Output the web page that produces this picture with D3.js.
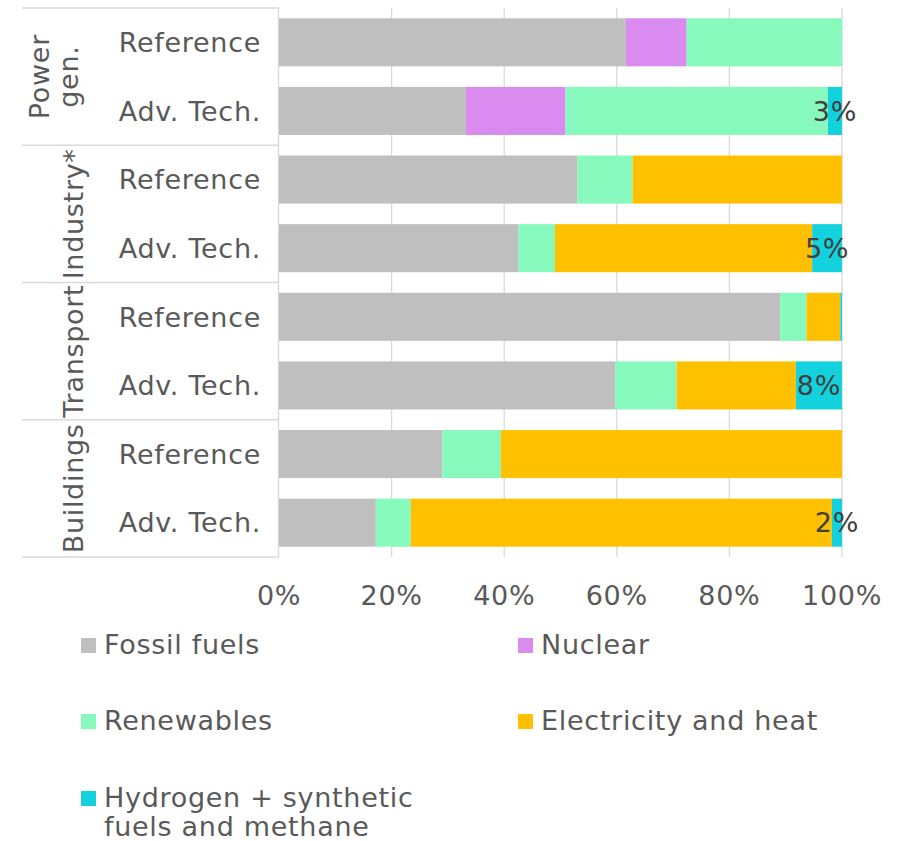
<!DOCTYPE html>
<html>
<head>
<meta charset="utf-8">
<script src="https://cdn.jsdelivr.net/npm/d3@7"></script>
<style>
  body { margin: 0; background: #fff; }
  text { font-family: Verdana, "DejaVu Sans", sans-serif; letter-spacing: 0.7px; }
</style>
</head>
<body>
<div id="chart"></div>
<script>
// sectors and scenarios (each sector has two bars)
const sectors = ["Power gen.", "Industry*", "Transport", "Buildings"];
const scenarios = ["Reference", "Adv. Tech."];

// shares in % per bar, top to bottom
const fossil      = [61.6, 33.2, 53.0, 42.5, 89.0, 59.7, 29.0, 17.2];
const nuclear     = [10.8, 17.7, 0, 0, 0, 0, 0, 0];
const renewables  = [27.6, 46.6, 9.8, 6.5, 4.7, 10.9, 10.4, 6.2];
const electricity = [0, 0, 37.2, 45.7, 6.0, 21.2, 60.6, 74.8];
const hydrogen    = [0, 2.5, 0, 5.3, 0.3, 8.2, 0, 1.8];
const hydrogenLabels = ["", "3%", "", "5%", "", "8%", "", "2%"];

const seriesNames = ["Fossil fuels", "Nuclear", "Renewables", "Electricity and heat", "Hydrogen + synthetic fuels and methane"];
const seriesColors = ["#bfbfbf", "#da8bef", "#87f9bc", "#ffc000", "#13d1dd"];
const xTicks = [0, 20, 40, 60, 80, 100];

const width = 901, height = 841;
const plotLeft = 279, plotRight = 842, plotTop = 8, plotBottom = 557;
const fontSize = 27;
const textColor = "#595959";
const lineColor = "#d9d9d9";

// build rows for the stack
const rows = [];
sectors.forEach((s, i) => {
  scenarios.forEach((sc, j) => {
    const k = i * 2 + j;
    rows.push({
      id: k, sector: s, scenario: sc,
      "Fossil fuels": fossil[k],
      "Nuclear": nuclear[k],
      "Renewables": renewables[k],
      "Electricity and heat": electricity[k],
      "Hydrogen + synthetic fuels and methane": hydrogen[k],
      label: hydrogenLabels[k]
    });
  });
});

const svg = d3.select("#chart").append("svg")
  .attr("width", width)
  .attr("height", height);

const x = d3.scaleLinear().domain([0, 100]).range([plotLeft, plotRight]);
const y = d3.scaleBand()
  .domain(rows.map(d => d.id))
  .range([plotTop, plotBottom])
  .paddingInner(0.3)
  .paddingOuter(0.15);
const color = d3.scaleOrdinal().domain(seriesNames).range(seriesColors);

// gridlines
svg.append("g")
  .selectAll("line")
  .data(xTicks.slice(1))
  .join("line")
  .attr("x1", d => x(d)).attr("x2", d => x(d))
  .attr("y1", plotTop).attr("y2", plotBottom)
  .attr("stroke", lineColor)
  .attr("stroke-width", 1.3);

// left table lines (group separators)
const groupEdges = d3.range(sectors.length + 1).map(i => plotTop + (plotBottom - plotTop) * i / sectors.length);
svg.append("g")
  .selectAll("line")
  .data(groupEdges)
  .join("line")
  .attr("x1", 22).attr("x2", plotLeft)
  .attr("y1", d => d).attr("y2", d => d)
  .attr("stroke", lineColor)
  .attr("stroke-width", 1.3);

svg.append("line")
  .attr("x1", plotLeft - 0.5).attr("x2", plotLeft - 0.5)
  .attr("y1", plotTop).attr("y2", plotBottom)
  .attr("stroke", lineColor)
  .attr("stroke-width", 1.3);

// stacked bars
const stack = d3.stack().keys(seriesNames);
const stacked = stack(rows);

svg.append("g")
  .selectAll("g")
  .data(stacked)
  .join("g")
  .attr("fill", d => color(d.key))
  .selectAll("rect")
  .data(d => d.filter(p => p[1] - p[0] > 0))
  .join("rect")
  .attr("x", d => x(d[0]))
  .attr("y", d => y(d.data.id))
  .attr("width", d => x(d[1]) - x(d[0]))
  .attr("height", y.bandwidth());

// hydrogen labels
const lastSeries = stacked[stacked.length - 1];
svg.append("g")
  .selectAll("text")
  .data(lastSeries.filter(d => d.data.label))
  .join("text")
  .attr("x", d => x((d[0] + d[1]) / 2))
  .attr("y", d => y(d.data.id) + y.bandwidth() / 2)
  .attr("dy", "0.36em")
  .attr("text-anchor", "middle")
  .attr("fill", "#404040")
  .style("font-size", fontSize + "px")
  .text(d => d.data.label);

// scenario labels
svg.append("g")
  .selectAll("text")
  .data(rows)
  .join("text")
  .attr("x", 261)
  .attr("y", d => y(d.id) + y.bandwidth() / 2)
  .attr("dy", "0.36em")
  .attr("text-anchor", "end")
  .attr("fill", textColor)
  .style("font-size", fontSize + "px")
  .text(d => d.scenario);

// sector labels (rotated, may overflow like in the original)
const sectorLabel = svg.append("g")
  .selectAll("text")
  .data(sectors)
  .join("text")
  .attr("transform", (d, i) => `translate(0, ${(groupEdges[i] + groupEdges[i + 1]) / 2}) rotate(-90)`)
  .attr("text-anchor", "middle")
  .attr("fill", textColor)
  .style("font-size", fontSize + "px");

sectorLabel.each(function(d) {
  const parts = d === "Power gen." ? ["Power", "gen."] : [d];
  const baseX = parts.length > 1 ? 49 : 83;
  d3.select(this).selectAll("tspan")
    .data(parts)
    .join("tspan")
    .attr("x", 0)
    .attr("y", (p, i) => baseX + i * 29)
    .text(p => p);
});

// x axis labels
svg.append("g")
  .selectAll("text")
  .data(xTicks)
  .join("text")
  .attr("x", d => x(d))
  .attr("y", 605)
  .attr("text-anchor", "middle")
  .attr("fill", textColor)
  .style("font-size", fontSize + "px")
  .text(d => d + "%");

// legend
const legendPos = [
  { x: 81, y: 645 }, { x: 518, y: 645 },
  { x: 81, y: 721 }, { x: 518, y: 721 },
  { x: 81, y: 798 }
];
const legend = svg.append("g")
  .selectAll("g")
  .data(seriesNames)
  .join("g")
  .attr("transform", (d, i) => `translate(${legendPos[i].x}, ${legendPos[i].y})`);

legend.append("rect")
  .attr("x", 0).attr("y", -7)
  .attr("width", 15).attr("height", 15)
  .attr("fill", d => color(d));

legend.append("text")
  .attr("fill", textColor)
  .style("font-size", fontSize + "px")
  .each(function(d) {
    const parts = d.startsWith("Hydrogen") ? ["Hydrogen + synthetic", "fuels and methane"] : [d];
    d3.select(this).selectAll("tspan")
      .data(parts)
      .join("tspan")
      .attr("x", 23)
      .attr("y", (p, i) => 9 + i * 29)
      .text(p => p);
  });
</script>
</body>
</html>
